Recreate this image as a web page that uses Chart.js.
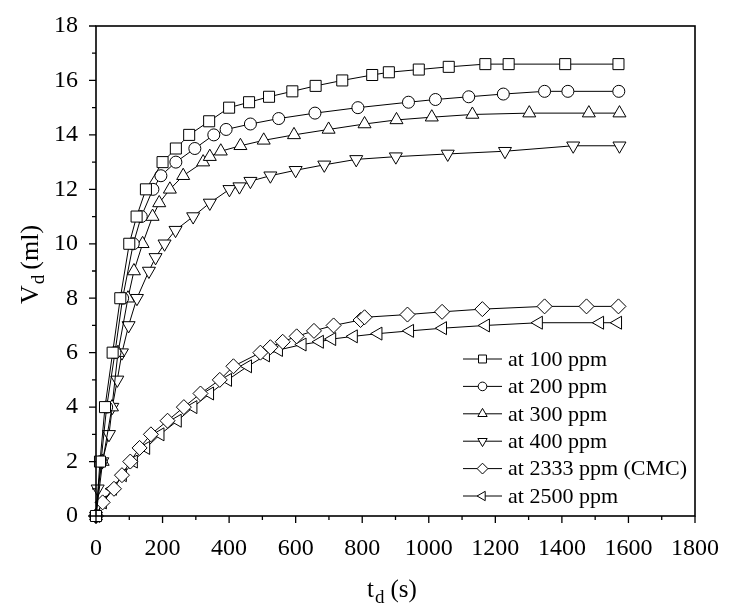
<!DOCTYPE html>
<html>
<head>
<meta charset="utf-8">
<script src="https://cdn.jsdelivr.net/npm/chart.js@4.4.1/dist/chart.umd.min.js"></script>
<style>
  html, body { margin: 0; padding: 0; background: #fff; }
  #wrap { width: 729px; height: 607px; }
</style>
</head>
<body>
<div id="wrap"><canvas id="chart" width="729" height="607"></canvas></div>
<script>
const FONT = "'Liberation Serif', 'Times New Roman', serif";

// series labels
const labels = ["at 100 ppm", "at 200 ppm", "at 300 ppm", "at 400 ppm", "at 2333 ppm (CMC)", "at 2500 ppm"];

// t_d (s) / V_d (ml)
const t100 = [0, 12, 27, 50, 73, 100, 122, 150, 200, 240, 280, 340, 400, 460, 520, 590, 660, 740, 830, 880, 970, 1060, 1170, 1240, 1410, 1570];
const v100 = [0, 2, 4, 6, 8, 10, 11, 12, 13, 13.5, 14, 14.5, 15, 15.2, 15.4, 15.6, 15.8, 16, 16.2, 16.3, 16.4, 16.5, 16.6, 16.6, 16.6, 16.6];

const t200 = [0, 15, 32, 57, 80, 112, 136, 171, 195, 240, 297, 354, 391, 464, 549, 658, 787, 939, 1020, 1120, 1224, 1348, 1418, 1571];
const v200 = [0, 2, 4, 6, 8, 10, 11, 12, 12.5, 13, 13.5, 14, 14.2, 14.4, 14.6, 14.8, 15.0, 15.2, 15.3, 15.4, 15.5, 15.6, 15.6, 15.6];

const t300 = [0, 20, 48, 66, 96, 114, 140, 170, 190, 222, 262, 322, 342, 375, 434, 504, 595, 699, 807, 903, 1009, 1131, 1302, 1481, 1573];
const v300 = [0, 2, 4, 6, 8, 9, 10, 11, 11.5, 12, 12.5, 13, 13.2, 13.4, 13.6, 13.8, 14.0, 14.2, 14.4, 14.55, 14.65, 14.75, 14.8, 14.8, 14.8];

const t400 = [0, 5, 19, 39, 49, 64, 78, 98, 123, 159, 179, 206, 239, 292, 342, 401, 431, 464, 524, 600, 686, 782, 901, 1057, 1229, 1434, 1573];
const v400 = [0, 1, 2, 3, 4, 5, 6, 7, 8, 9, 9.5, 10, 10.5, 11, 11.5, 12, 12.1, 12.3, 12.5, 12.7, 12.9, 13.1, 13.2, 13.3, 13.4, 13.6, 13.6];

const t2333 = [0, 20, 54, 78, 103, 131, 165, 215, 264, 314, 372, 413, 494, 524, 561, 603, 655, 714, 795, 807, 936, 1040, 1161, 1348, 1474, 1570];
const v2333 = [0, 0.5, 1.0, 1.5, 2.0, 2.5, 3.0, 3.5, 4.0, 4.5, 5.0, 5.5, 6.0, 6.2, 6.4, 6.6, 6.8, 7.0, 7.2, 7.3, 7.4, 7.5, 7.6, 7.7, 7.7, 7.7];

const t2500 = [0, 20, 50, 80, 113, 150, 193, 245, 292, 342, 396, 456, 510, 549, 620, 672, 709, 774, 848, 943, 1042, 1171, 1330, 1514, 1568];
const v2500 = [0, 0.5, 1.0, 1.5, 2.0, 2.5, 3.0, 3.5, 4.0, 4.5, 5.0, 5.5, 5.9, 6.1, 6.3, 6.4, 6.5, 6.6, 6.7, 6.8, 6.9, 7.0, 7.1, 7.1, 7.1];

const xs = [t100, t200, t300, t400, t2333, t2500];
const ys = [v100, v200, v300, v400, v2333, v2500];

// marker looks
const styles = ["rect", "circle", "triangle", "triangle", "rectRot", "triangle"];
const rotations = [0, 0, 0, 180, 0, -90];
const radii = [7.8, 6, 7.5, 7.5, 7.5, 7.5];

function pts(x, y) {
  return x.map((v, i) => ({ x: v, y: y[i] }));
}

const datasets = labels.map((lab, i) => ({
  label: lab,
  data: pts(xs[i], ys[i]),
  borderColor: "#000",
  borderWidth: 1,
  pointStyle: styles[i],
  pointRotation: rotations[i],
  pointRadius: radii[i],
  pointHoverRadius: radii[i],
  pointBackgroundColor: "#fff",
  pointBorderColor: "#000",
  pointBorderWidth: 1,
  tension: 0,
  fill: false,
  clip: false
}));

// frame + major/minor ticks + axis titles
const framePlugin = {
  id: "frame",
  afterDraw(chart) {
    const { ctx, chartArea: a, scales } = chart;
    const sx = scales.x, sy = scales.y;
    ctx.save();
    ctx.strokeStyle = "#000";
    ctx.lineWidth = 1.6;
    ctx.strokeRect(a.left, a.top, a.right - a.left, a.bottom - a.top);
    ctx.lineWidth = 1.3;
    ctx.beginPath();
    for (let v = 0; v <= 1800; v += 100) {
      const px = sx.getPixelForValue(v);
      const len = v % 200 === 0 ? 7 : 4;
      ctx.moveTo(px, a.bottom);
      ctx.lineTo(px, a.bottom + len);
    }
    for (let v = 0; v <= 18; v += 1) {
      const py = sy.getPixelForValue(v);
      const len = v % 2 === 0 ? 7 : 4;
      ctx.moveTo(a.left, py);
      ctx.lineTo(a.left - len, py);
    }
    ctx.stroke();

    ctx.fillStyle = "#000";
    ctx.textBaseline = "alphabetic";
    ctx.textAlign = "left";
    ctx.font = "25px " + FONT;
    let x = 367, y = 597;
    ctx.fillText("t", x, y);
    x += ctx.measureText("t").width + 1;
    ctx.font = "19px " + FONT;
    ctx.fillText("d", x, y + 6);
    x += ctx.measureText("d").width + 6;
    ctx.font = "25px " + FONT;
    ctx.fillText("(s)", x, y);

    ctx.translate(38, 304);
    ctx.rotate(-Math.PI / 2);
    x = 0; y = 0;
    ctx.font = "26px " + FONT;
    ctx.fillText("V", x, y);
    x += ctx.measureText("V").width + 1;
    ctx.font = "19px " + FONT;
    ctx.fillText("d", x, y + 6);
    x += ctx.measureText("d").width + 5;
    ctx.font = "26px " + FONT;
    ctx.fillText("(ml)", x, y);
    ctx.restore();
  }
};

// legend drawn as line - marker - line, like the original
const legendPlugin = {
  id: "lineLegend",
  afterDraw(chart) {
    const { ctx } = chart;
    ctx.save();
    ctx.font = "22px " + FONT;
    ctx.textBaseline = "middle";
    ctx.textAlign = "left";
    chart.data.datasets.forEach((ds, i) => {
      const y = 359 + i * 27.4;
      ctx.strokeStyle = "#000";
      ctx.lineWidth = 1;
      ctx.beginPath();
      ctx.moveTo(463, y);
      ctx.lineTo(502, y);
      ctx.stroke();
      ctx.fillStyle = "#fff";
      Chart.helpers.drawPoint(ctx, {
        pointStyle: ds.pointStyle,
        rotation: ds.pointRotation,
        radius: ds.pointRadius * 0.72,
        borderWidth: 1
      }, 482.5, y);
      ctx.fillStyle = "#000";
      ctx.fillText(ds.label, 508, y + 1);
    });
    ctx.restore();
  }
};

new Chart(document.getElementById("chart"), {
  type: "line",
  data: { datasets: datasets },
  options: {
    responsive: false,
    animation: false,
    layout: { padding: { top: 26, right: 29, left: 0, bottom: 0 } },
    plugins: {
      legend: { display: false },
      tooltip: { enabled: false }
    },
    scales: {
      x: {
        type: "linear",
        min: 0,
        max: 1800,
        grid: { display: false },
        border: { display: false },
        ticks: {
          stepSize: 200,
          color: "#000",
          font: { family: FONT, size: 24 },
          padding: 10,
          maxRotation: 0,
          callback: v => String(v)
        },
        afterFit(scale) { scale.height = 91; }
      },
      y: {
        min: 0,
        max: 18,
        grid: { display: false },
        border: { display: false },
        ticks: {
          stepSize: 2,
          color: "#000",
          font: { family: FONT, size: 24 },
          padding: 10,
          callback: v => String(v)
        },
        afterFit(scale) { scale.width = 96; }
      }
    }
  },
  plugins: [framePlugin, legendPlugin]
});
</script>
</body>
</html>
